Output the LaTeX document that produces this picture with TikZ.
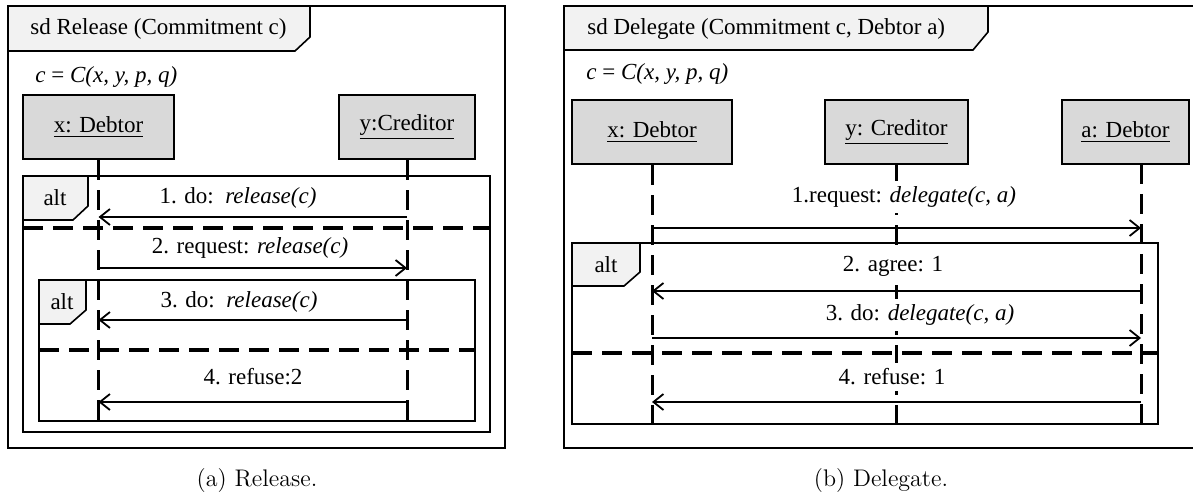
\documentclass[tikz,border=0pt]{standalone}
\usepackage{fontspec}
\newfontfamily\umlfont{Liberation Serif}
\usetikzlibrary{arrows.meta}
\definecolor{tabgray}{RGB}{242,242,242}
\definecolor{objgray}{RGB}{217,217,217}

\begin{document}
\begin{tikzpicture}[x=0.5pt,y=-0.5pt,
	every node/.style={font=\umlfont\fontsize{11.5}{13}\selectfont, inner sep=0pt},
	frame/.style={line width=1.3pt},
	tab/.style={line width=0.8pt, fill=tabgray},
	obj/.style={draw, line width=1.4pt, fill=objgray, minimum height=32pt},
	life/.style={line width=1.5pt, dash pattern=on 10pt off 5pt},
	sep/.style={line width=1.6pt, dash pattern=on 10pt off 5pt},
	fragment/.style={line width=1pt},
	msg/.style={-{Straight Barb[length=5pt,width=8pt]}, line width=0.9pt},
	lab/.style={fill=white, inner xsep=1pt, inner ysep=3pt},
	caption/.style={font=\fontsize{12}{14}\selectfont}]
	
	\useasboundingbox (0,0) rectangle (1193,497);
	\clip (0,0) rectangle (1193,497);
	
	% (a) Release
	\draw[frame] (8,6) rectangle (505,448);
	\draw[tab] (8,6) -- (310,6) -- (310,37) -- (295,51) -- (8,51) -- cycle;
	\node[anchor=west] (ttlA) at (30,29) {sd Release (Commitment c)};
	\node[anchor=west] (defA) at (35,77) {\textit{c} = \textit{C(x, y, p, q)}};
	
	\node[obj, minimum width=75.5pt] (dbA) at (98.5,127) {\underline{x: Debtor}};
	\node[obj, minimum width=68pt] (crA) at (407,127) {\underline{y:Creditor}};
	
	\draw[fragment] (23,176) rectangle (490,432);
	\draw[tab] (23,176) -- (88,176) -- (88,206) -- (73,220) -- (23,220) -- cycle;
	\node (altA) at (55,198) {alt};
	\draw[sep] (23,228) -- (490,228);
	
	\draw[fragment] (39,280) rectangle (475,421);
	\draw[tab] (39,280) -- (86,280) -- (86,310) -- (70,324) -- (39,324) -- cycle;
	\node (altAA) at (62,302) {alt};
	\draw[sep] (39,350) -- (475,350);
	
	\coordinate (endA) at (0,421);
	\draw[life] (dbA) -- (dbA |- endA);
	\draw[life] (crA) -- (crA |- endA);
	
	\coordinate (a1) at (0,217);
	\coordinate (a2) at (0,268);
	\coordinate (a3) at (0,320);
	\coordinate (a4) at (0,402);
	\draw[msg] (crA |- a1) -- (dbA |- a1);
	\draw[msg] (dbA |- a2) -- (crA |- a2);
	\draw[msg] (crA |- a3) -- (dbA |- a3);
	\draw[msg] (crA |- a4) -- (dbA |- a4);
	\node[lab] (la1) at (238,198) {1. do:\ \ \textit{release(c)}};
	\node[lab] (la2) at (250,248) {2. request: \textit{release(c)}};
	\node[lab] (la3) at (239,302) {3. do:\ \ \textit{release(c)}};
	\node[lab] (la4) at (253,377) {4. refuse:2};
	
	% (b) Delegate
	\draw[frame] (1200,6) -- (564,6) -- (564,448) -- (1200,448);
	\draw[tab] (564,6) -- (988,6) -- (988,32) -- (973,50) -- (564,50) -- cycle;
	\node[anchor=west] (ttlB) at (587,29) {sd Delegate (Commitment c, Debtor a)};
	\node[anchor=west] (defB) at (586,74) {\textit{c} = \textit{C(x, y, p, q)}};
	
	\node[obj, minimum width=80pt] (dbB) at (652,132) {\underline{x: Debtor}};
	\node[obj, minimum width=71.5pt] (crB) at (896.5,132) {\underline{y: Creditor}};
	\node[obj, minimum width=63.5pt] (adB) at (1125.5,132) {\underline{a: Debtor}};
	
	\draw[fragment] (572,243) rectangle (1158,424);
	\draw[tab] (572,243) -- (640,243) -- (640,272) -- (624,286) -- (572,286) -- cycle;
	\node (altB) at (606,265) {alt};
	\draw[sep] (572,353) -- (1158,353);
	
	\coordinate (endB) at (0,424);
	\coordinate (adL) at (1141,164);
	\draw[life] (dbB) -- (dbB |- endB);
	\draw[life] (crB) -- (crB |- endB);
	\draw[life] (adL) -- (adL |- endB);
	
	\coordinate (b1) at (0,228);
	\coordinate (b2) at (0,291);
	\coordinate (b3) at (0,338);
	\coordinate (b4) at (0,402);
	\draw[msg] (dbB |- b1) -- (adL |- b1);
	\draw[msg] (adL |- b2) -- (dbB |- b2);
	\draw[msg] (dbB |- b3) -- (adL |- b3);
	\draw[msg] (adL |- b4) -- (dbB |- b4);
	\node[lab] (lb1) at (904,197) {1.request: \textit{delegate(c, a)}};
	\node[lab] (lb2) at (893,266) {2. agree: 1};
	\node[lab] (lb3) at (920,315) {3. do: \textit{delegate(c, a)}};
	\node[lab] (lb4) at (892,377) {4. refuse: 1};
	
	\node[caption] (capA) at (257,481) {(a) Release.};
	\node[caption] (capB) at (881,481) {(b) Delegate.};
\end{tikzpicture}
\end{document}
